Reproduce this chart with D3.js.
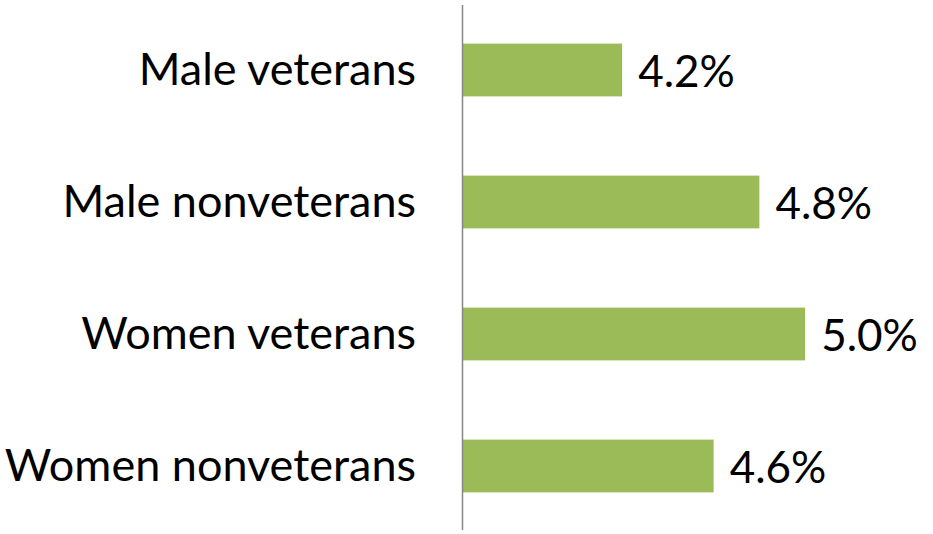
<!DOCTYPE html>
<html><head><meta charset="utf-8">
<script src="https://cdn.jsdelivr.net/npm/d3@7"></script>
<style>body{margin:0;background:#fff}svg{display:block}</style>
</head><body>
<svg id="c" width="933" height="534"></svg>
<script>
const categories = ["Male veterans", "Male nonveterans", "Women veterans", "Women nonveterans"];
const values = [4.2, 4.8, 5.0, 4.6];
const valueLabels = ["4.2%", "4.8%", "5.0%", "4.6%"];
const xDomain = [3.5, 5.5];

const svg = d3.select("#c");
const font = "Lato, 'Open Sans', sans-serif";
const x = d3.scaleLinear().domain(xDomain).range([462, 919.5]);
const y = d3.scaleBand().domain(categories).range([4, 532]).paddingInner(0.6).paddingOuter(0.3);

svg.selectAll("rect.bar").data(categories).join("rect")
  .attr("class","bar")
  .attr("x", x(xDomain[0]))
  .attr("y", d => y(d))
  .attr("width", (d,i) => x(values[i]) - x(xDomain[0]))
  .attr("height", y.bandwidth())
  .attr("fill", "#9BBB59");

svg.append("line").attr("x1", 462.5).attr("x2", 462.5).attr("y1", 5).attr("y2", 530)
  .attr("stroke", "#868686").attr("stroke-width", 1.5);

svg.selectAll("text.cat").data(categories).join("text")
  .attr("class","cat")
  .attr("x", 416).attr("y", d => y(d) + y.bandwidth()/2 + 14.5)
  .attr("text-anchor","end").attr("font-family", font).attr("font-size", 45)
  .attr("fill","#000").text(d => d);

svg.selectAll("text.val").data(categories).join("text")
  .attr("class","val")
  .attr("x", (d,i) => x(values[i]) + 16).attr("y", d => y(d) + y.bandwidth()/2 + 16.5)
  .attr("font-family", font).attr("font-size", 44)
  .attr("fill","#000").text((d,i) => valueLabels[i]);
</script>
</body></html>
